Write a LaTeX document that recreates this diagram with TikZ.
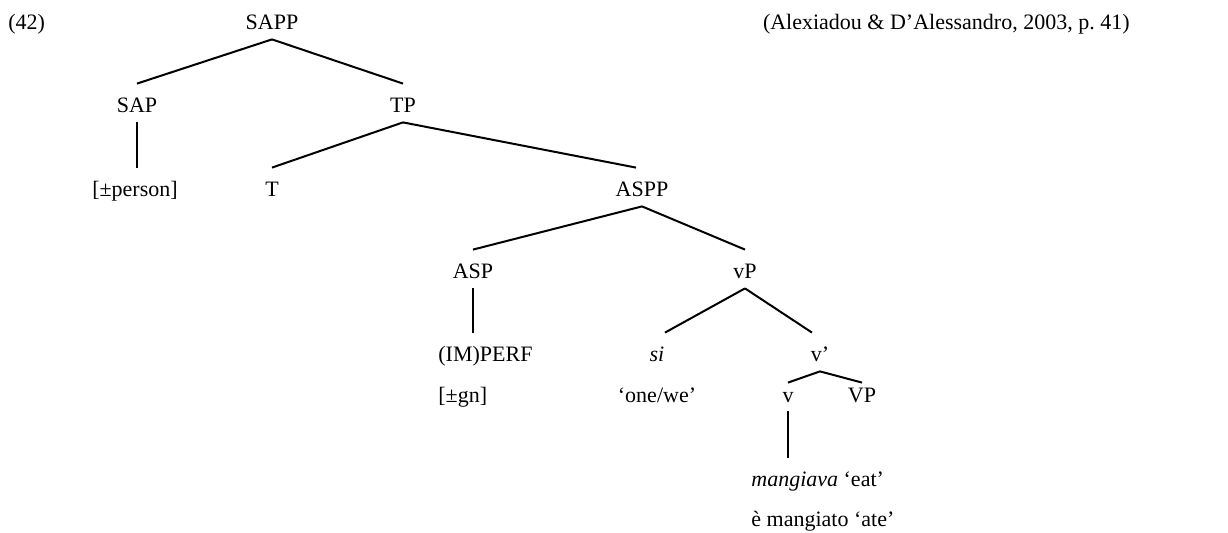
\documentclass[tikz,border=0pt]{standalone}
\usepackage{fontspec}
\setmainfont{Liberation Serif}
\begin{document}
\begin{tikzpicture}[x=0.5pt,y=-0.5pt,font=\fontsize{11}{13}\selectfont,
        cat/.style={anchor=base,inner xsep=1pt,inner ysep=2.5pt,text height=12pt,text depth=2pt},
        low/.style={cat,text height=8pt,inner ysep=2pt},
        branch/.style={line width=1pt}]
    \useasboundingbox (0,0) rectangle (1228,533);
    \node[anchor=base west,inner sep=0pt] (ex) at (8,30) {(42)};
    \node[anchor=base east,inner sep=0pt] (src) at (1130,30) {(Alexiadou \& D’Alessandro, 2003, p.~41)};
    % upper part of the tree
    \node[cat] (sapp) at (272,30) {SAPP};
    \node[cat] (sap) at (137,113) {SAP};
    \node[cat] (tp) at (403,113) {TP};
    \node[cat] (person) at (135,197) {[±person]};
    \node[cat] (t) at (272,197) {T};
    \node[cat] (aspp) at (642,197) {ASPP};
    \draw[branch] (sapp.south) -- (sap.north);
    \draw[branch] (sapp.south) -- (tp.north);
    \draw[branch] (sap.south) -- (sap.south |- person.north);
    \draw[branch] (tp.south) -- (t.north);
    \draw[branch] (tp.south) -- ([xshift=-3pt]aspp.north);
    % aspect and the verb phrase
    \node[cat] (asp) at (473,279) {ASP};
    \node[cat] (vp) at (745,279) {vP};
    \node[cat,anchor=base west] (perf) at (436,362) {(IM)PERF};
    \node[cat,anchor=base west] (gn) at (436,403) {[±gn]};
    \node[cat] (si) at (657,362) {\textit{si}};
    \node[cat] (one) at (657,403) {‘one/we’};
    \node[cat] (vbar) at (820,362) {v’};
    \node[low] (v) at (788,403) {v};
    \node[low] (vpp) at (862,403) {VP};
    \node[cat,anchor=base west] (eat) at (749,487) {\textit{mangiava} ‘eat’};
    \node[cat,anchor=base west] (ate) at (749,527) {è mangiato ‘ate’};
    \draw[branch] (aspp.south) -- (asp.north);
    \draw[branch] (aspp.south) -- (vp.north);
    \draw[branch] (asp.south) -- (asp.south |- perf.north);
    \draw[branch] (vp.south) -- ([xshift=4pt]si.north);
    \draw[branch] (vp.south) -- ([xshift=-4pt]vbar.north);
    \draw[branch] (vbar.south) -- (v.north);
    \draw[branch] (vbar.south) -- (vpp.north);
    \draw[branch] (v.south) -- (v.south |- eat.north);
\end{tikzpicture}
\end{document}
